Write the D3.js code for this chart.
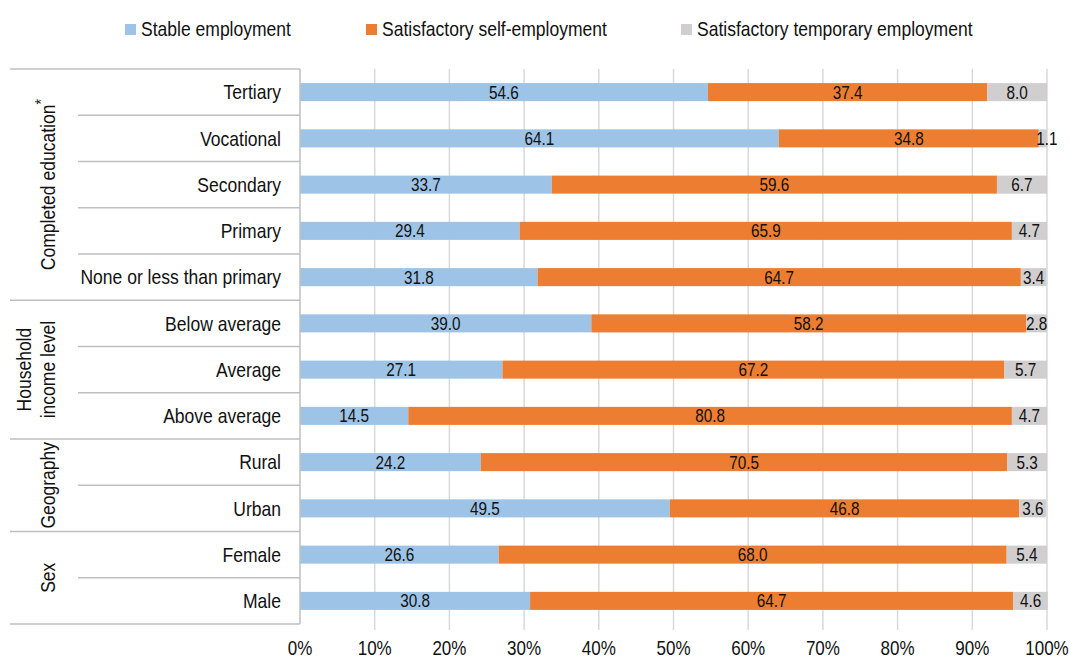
<!DOCTYPE html>
<html>
<head>
<meta charset="utf-8">
<script src="https://cdn.jsdelivr.net/npm/d3@7"></script>
<style>
  html, body { margin: 0; padding: 0; background: #fff; }
  svg { display: block; }
  text { font-family: "Liberation Sans", Arial, sans-serif; fill: #111; }
</style>
</head>
<body>
<svg id="chart" width="1070" height="659"></svg>
<script>
const categories = ["Tertiary", "Vocational", "Secondary", "Primary", "None or less than primary",
  "Below average", "Average", "Above average", "Rural", "Urban", "Female", "Male"];
const stable = [54.6, 64.1, 33.7, 29.4, 31.8, 39.0, 27.1, 14.5, 24.2, 49.5, 26.6, 30.8];
const selfEmp = [37.4, 34.8, 59.6, 65.9, 64.7, 58.2, 67.2, 80.8, 70.5, 46.8, 68.0, 64.7];
const temporary = [8.0, 1.1, 6.7, 4.7, 3.4, 2.8, 5.7, 4.7, 5.3, 3.6, 5.4, 4.6];
const seriesNames = ["Stable employment", "Satisfactory self-employment", "Satisfactory temporary employment"];
const seriesColors = ["#9DC3E6", "#ED7D31", "#D0CECE"];
const groups = [
  { lines: ["Completed education*"], first: "Tertiary", last: "None or less than primary" },
  { lines: ["Household", "income level"], first: "Below average", last: "Above average" },
  { lines: ["Geography"], first: "Rural", last: "Urban" },
  { lines: ["Sex"], first: "Female", last: "Male" }
];
const xTicks = [0, 10, 20, 30, 40, 50, 60, 70, 80, 90, 100];

(function () {
const svg = d3.select("#chart");
const pLeft = 300, pRight = 1047, pTop = 69, pBottom = 624;
const FS = 21, SX = 0.835;

const x = d3.scaleLinear().domain([0, 100]).range([pLeft, pRight]);
const y = d3.scaleBand().domain(categories).range([pTop, pBottom]).paddingInner(0.61).paddingOuter(0.305);
const step = y.step();
const gap = (step - y.bandwidth()) / 2;

const stackData = categories.map((c, i) => ({ cat: c, s0: stable[i], s1: selfEmp[i], s2: temporary[i] }));
const series = d3.stack().keys(["s0", "s1", "s2"])(stackData);

// gridlines
svg.append("g").selectAll("line").data(xTicks.filter(t => t > 0)).join("line")
  .attr("x1", d => x(d)).attr("x2", d => x(d))
  .attr("y1", pTop).attr("y2", pBottom + 6)
  .attr("stroke", "#D9D9D9").attr("stroke-width", 1.5);

// bars
svg.append("g").selectAll("g").data(series).join("g")
  .attr("fill", (d, i) => seriesColors[i])
  .selectAll("rect").data(d => d).join("rect")
  .attr("x", d => x(d[0])).attr("width", d => x(d[1]) - x(d[0]))
  .attr("y", d => y(d.data.cat)).attr("height", y.bandwidth());

// value labels
const labG = svg.append("g").attr("font-size", 18);
series.forEach((s) => {
  labG.selectAll(null).data(s).join("text")
    .attr("transform", d => {
      const w = x(d[1]) - x(d[0]);
      const cx = w < 20 ? x(d[0]) + w / 2 + 4 : (x(d[0]) + x(d[1])) / 2;
      return `translate(${cx},${y(d.data.cat) + y.bandwidth() / 2}) scale(0.85,1)`;
    })
    .attr("dy", "0.36em")
    .attr("text-anchor", "middle")
    .text(d => (d[1] - d[0]).toFixed(1));
});

// left axis line
svg.append("line").attr("x1", pLeft).attr("x2", pLeft).attr("y1", pTop).attr("y2", pBottom)
  .attr("stroke", "#BFBFBF").attr("stroke-width", 1.5);

// category separators
const firstCats = groups.map(g => g.first);
svg.append("g").selectAll("line").data(categories.slice(1)).join("line")
  .attr("x1", d => firstCats.includes(d) ? 10 : 78).attr("x2", pLeft)
  .attr("y1", d => y(d) - gap).attr("y2", d => y(d) - gap)
  .attr("stroke", "#BFBFBF").attr("stroke-width", 1.5);
svg.append("g").selectAll("line").data([pTop, pBottom]).join("line")
  .attr("x1", 10).attr("x2", pLeft).attr("y1", d => d).attr("y2", d => d)
  .attr("stroke", "#BFBFBF").attr("stroke-width", 1.5);

// category labels
svg.append("g").attr("font-size", FS).selectAll("text").data(categories).join("text")
  .attr("transform", d => `translate(281,${y(d) + y.bandwidth() / 2}) scale(${SX},1)`)
  .attr("dy", "0.34em")
  .attr("text-anchor", "end").text(d => d);

// group labels
groups.forEach(g => {
  const y0 = y(g.first) - gap;
  const y1 = y(g.last) + y.bandwidth() + gap;
  const cy = (y0 + y1) / 2;
  const n = g.lines.length;
  g.lines.forEach((ln, li) => {
    const bx = 55 - (n - 1 - li) * 24;
    const t = svg.append("text").attr("font-size", FS)
      .attr("transform", `translate(${bx},${cy}) rotate(-90) scale(${SX},1)`)
      .attr("text-anchor", "middle");
    if (ln.endsWith("*")) {
      t.append("tspan").text(ln.slice(0, -1));
      t.append("tspan").attr("dy", "-0.45em").attr("font-size", FS * 0.8).text("*");
    } else {
      t.text(ln);
    }
  });
});

// x axis tick labels
svg.append("g").attr("font-size", 20).selectAll("text").data(xTicks).join("text")
  .attr("transform", d => `translate(${x(d)},655) scale(0.85,1)`)
  .attr("text-anchor", "middle").text(d => d + "%");

// legend
const legendX = [125, 366, 681];
const lg = svg.append("g").attr("font-size", FS);
seriesNames.forEach((nm, i) => {
  lg.append("rect").attr("x", legendX[i]).attr("y", 24).attr("width", 11).attr("height", 11).attr("fill", seriesColors[i]);
  lg.append("text").attr("transform", `translate(${legendX[i] + 16},36) scale(${SX},1)`).text(nm);
});
})();
</script>
</body>
</html>
